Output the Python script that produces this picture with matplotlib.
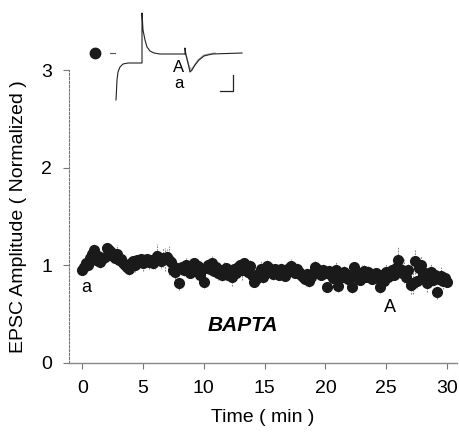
import matplotlib as mpl
mpl.use('Agg')
import matplotlib.pyplot as plt
import numpy as np

plt.rcParams['font.family'] = ['Liberation Sans', 'DejaVu Sans']

# EPSC amplitude, one point every 10 s (normalized)
amp = [0.95, 0.98, 1.02, 1.00, 1.08, 1.12, 1.16, 1.05, 1.10, 1.03, 1.07, 1.09,
       1.18, 1.16, 1.14, 1.10, 1.08, 1.12, 1.05, 1.06, 1.02, 1.00, 0.98, 0.96,
       1.02, 1.04, 1.00, 1.05, 1.03, 1.06, 1.02, 1.04, 1.07, 1.03, 1.05, 1.02,
       1.06, 1.10, 1.08, 1.04, 1.08, 1.06, 1.09, 1.05, 1.03, 0.95, 0.93, 0.97,
       0.82, 0.98, 0.95, 1.00, 0.96, 0.92, 0.97, 1.02, 0.94, 0.99, 0.90, 0.96,
       0.83, 0.97, 1.00, 0.96, 1.02, 0.94, 0.98, 0.92, 0.95, 0.90, 0.94, 0.97,
       0.90, 0.93, 0.88, 0.96, 0.92, 0.98, 1.00, 0.95, 1.02, 0.97, 0.93, 0.99,
       0.90, 0.83, 0.86, 0.92, 0.96, 0.88, 0.95, 0.99, 0.97, 0.93, 0.91, 0.96,
       0.93, 0.90, 0.96, 0.92, 0.89, 0.94, 0.97, 0.99, 0.95, 0.92, 0.96, 0.93,
       0.90, 0.88, 0.86, 0.91, 0.84, 0.88, 0.92, 0.98, 0.96, 0.93, 0.90, 0.95,
       0.92, 0.78, 0.94, 0.90, 0.87, 0.95, 0.79, 0.91, 0.88, 0.93, 0.89, 0.86,
       0.90, 0.78, 0.98, 0.88, 0.92, 0.85, 0.90, 0.94, 0.88, 0.93, 0.91, 0.86,
       0.89, 0.92, 0.87, 0.78, 0.90, 0.84, 0.93, 0.88, 0.92, 0.95, 0.90, 0.97,
       1.05, 0.96, 0.92, 0.94, 0.88, 0.95, 0.80, 0.82, 1.04, 0.84, 0.97, 1.00,
       0.90, 0.92, 0.82, 0.88, 0.93, 0.85, 0.90, 0.73, 0.86, 0.89, 0.84, 0.87,
       0.83]
err = [.04, .05, .06, .05, .08, .10, .07, .06, .05, .06, .05, .07,
       .05, .06, .07, .05, .06, .09, .05, .06, .08, .07, .05, .06,
       .05, .06, .07, .05, .06, .05, .08, .06, .05, .07, .05, .06,
       .10, .12, .06, .07, .10, .12, .08, .15, .06, .05, .10, .07,
       .07, .05, .06, .08, .06, .05, .09, .06, .05, .07, .05, .06,
       .06, .05, .07, .06, .08, .05, .06, .07, .05, .06, .09, .05,
       .05, .06, .09, .05, .07, .06, .05, .10, .06, .07, .05, .06,
       .07, .05, .06, .05, .08, .06, .05, .07, .06, .05, .06, .05,
       .06, .05, .07, .06, .05, .06, .05, .08, .06, .05, .07, .06,
       .05, .06, .05, .07, .06, .05, .09, .06, .05, .06, .05, .07,
       .06, .05, .07, .06, .05, .08, .06, .05, .07, .06, .05, .06,
       .05, .06, .05, .07, .06, .05, .10, .06, .05, .06, .07, .05,
       .06, .05, .07, .06, .05, .06, .08, .05, .06, .07, .05, .09,
       .14, .06, .08, .12, .10, .06, .09, .11, .13, .07, .08, .10,
       .06, .07, .09, .05, .08, .06, .07, .07, .06, .09, .08, .06,
       .05]
time_min = np.arange(len(amp)) / 6.0

# sample traces for the inset (ms, arbitrary units)
trace_t = [31, 32, 33, 35, 38, 43, 56, 57, 57, 58, 60, 62, 65, 69, 75, 100,
           100, 101, 103, 105, 107, 110, 114, 119, 127, 157]
trace_A = [5, 25, 33, 38, 41, 42, 42, 42, 92, 75, 65, 58, 54, 52, 51, 51,
           57, 50, 42, 33, 35, 40, 45, 49, 51, 52]
trace_a_t = [100, 101, 104, 106, 109, 113, 119, 130]
trace_a = [51, 50, 39, 35, 39, 45, 50, 52]
scale_x = [148, 148, 135]
scale_y = [30, 14, 14]

fig = plt.figure(figsize=(4.59, 4.34), dpi=100)
ax = fig.add_axes([0.150, 0.1636, 0.845, 0.675])

eb = ax.errorbar(time_min, amp, yerr=err, fmt='o', color='#1a1a1a', ms=7,
                 ecolor='#888888', elinewidth=0.8, capsize=0, zorder=3)
eb[2][0].set_linestyle((0, (1.5, 1)))

ax.set_xlim(-1.1, 30.8)
ax.set_ylim(0, 3)
ax.set_xticks([0, 5, 10, 15, 20, 25, 30])
ax.set_yticks([0, 1, 2, 3])
for s in ['top', 'right']:
    ax.spines[s].set_visible(False)
ax.spines['left'].set_linestyle((0, (2, 1.5)))
ax.spines['left'].set_color('#777777')
ax.spines['left'].set_linewidth(0.8)
ax.spines['bottom'].set_color('#888888')
ax.spines['bottom'].set_linewidth(1.0)
ax.tick_params(length=4, width=0.8, color='#777777', labelsize=14, pad=8)
ax.set_xlabel('Time ( min )', fontsize=14, labelpad=9)
ax.set_ylabel('EPSC Amplitude ( Normalized )', fontsize=14, labelpad=10)

ax.text(0.3, 0.77, 'a', fontsize=13, ha='center', va='center')
ax.text(25.3, 0.57, 'A', fontsize=13, ha='center', va='center')
ax.text(13.2, 0.38, 'BAPTA', fontsize=15, fontweight='bold', fontstyle='italic',
        ha='center', va='center')

# inset
ins = fig.add_axes([85 / 459, 1 - 105 / 434, 165 / 459, 100 / 434])
ins.set_xlim(0, 165)
ins.set_ylim(0, 100)
ins.axis('off')
ins.plot(trace_a_t, trace_a, color='#aaaaaa', lw=1.0)
ins.plot(trace_t, trace_A, color='#222222', lw=0.8)
ins.plot(scale_x, scale_y, color='#222222', lw=0.9)
ins.plot([10], [52], 'o', color='#1a1a1a', ms=7.5)
ins.plot([25, 30], [52, 52], color='#555555', lw=0.8)
ins.text(94, 37, 'A', fontsize=12, ha='center', va='center')
ins.text(94, 22, 'a', fontsize=12, ha='center', va='center')

fig.savefig('out.png', dpi=100)
